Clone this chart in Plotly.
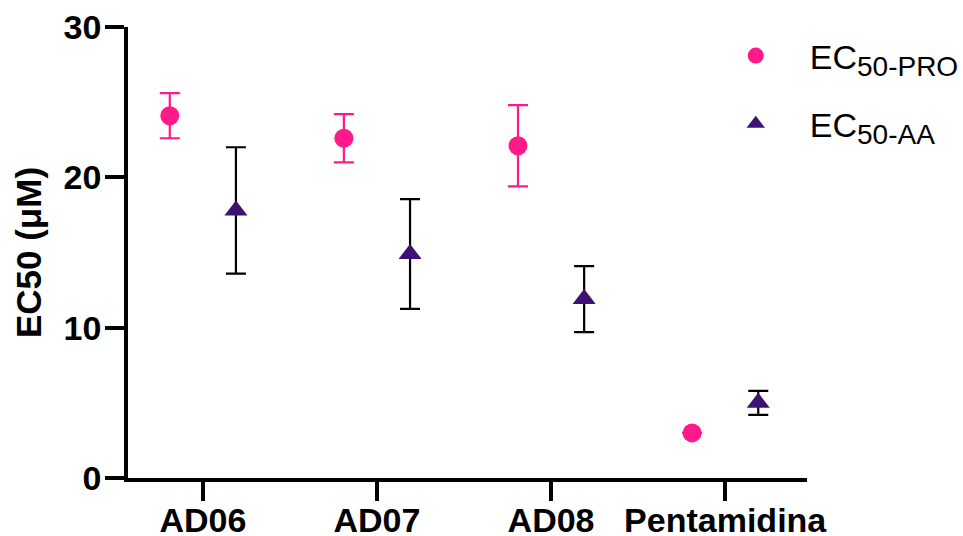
import plotly.graph_objects as go

categories = ["AD06", "AD07", "AD08", "Pentamidina"]
pro_values = [24.1, 22.6, 22.1, 3.0]
pro_errors = [1.5, 1.6, 2.7, 0.0]
aa_values = [17.8, 14.9, 11.9, 5.0]
aa_errors = [4.2, 3.65, 2.2, 0.8]
y_ticks = [0, 10, 20, 30]

PINK = "#FF1A8A"
PURPLE = "#3D1273"
FONT = "Liberation Sans, Arial, sans-serif"
SUB = "<sub><span style='font-size:28px'>{}</span></sub>"

fig = go.Figure()
fig.add_trace(go.Scatter(
    x=categories, y=pro_values, mode="markers",
    name="EC" + SUB.format("50-PRO"), legendgroup="pro",
    marker=dict(symbol="circle", size=19, color=PINK),
    error_y=dict(type="data", array=pro_errors, visible=True,
                 color=PINK, thickness=2.2, width=10),
))
fig.add_trace(go.Scatter(
    x=categories, y=aa_values, mode="markers",
    name="EC" + SUB.format("50-AA"), legendgroup="aa",
    marker=dict(symbol="triangle-up", size=20, color=PURPLE),
    error_y=dict(type="data", array=aa_errors, visible=True,
                 color="black", thickness=2.2, width=10),
))

axis_common = dict(
    showline=True, linecolor="black", linewidth=3.5,
    ticks="outside", ticklen=19, tickwidth=3.5, tickcolor="black",
    showgrid=False, zeroline=False, automargin=False,
    tickfont=dict(family=FONT, size=34, color="black", weight="bold"),
)

fig.update_layout(
    width=963, height=536,
    margin=dict(l=128, r=156, t=27, b=58, autoexpand=False),
    plot_bgcolor="white", paper_bgcolor="white",
    scattermode="group", scattergap=0.24,
    xaxis=dict(type="category", range=[-0.43, 3.47], ticklabelstandoff=-10,
               **axis_common),
    yaxis=dict(range=[0, 30], tickvals=y_ticks, ticklabelstandoff=-3,
               title=dict(text="EC50 (μM)", standoff=12,
                          font=dict(family=FONT, size=35, color="black", weight="bold")),
               **axis_common),
    legend=dict(x=0.845, y=1.0, xanchor="left", yanchor="top",
                font=dict(family=FONT, size=34, color="black"),
                itemwidth=98, tracegroupgap=21, bgcolor="rgba(0,0,0,0)"),
    showlegend=True,
)

fig.write_html("out.html")
